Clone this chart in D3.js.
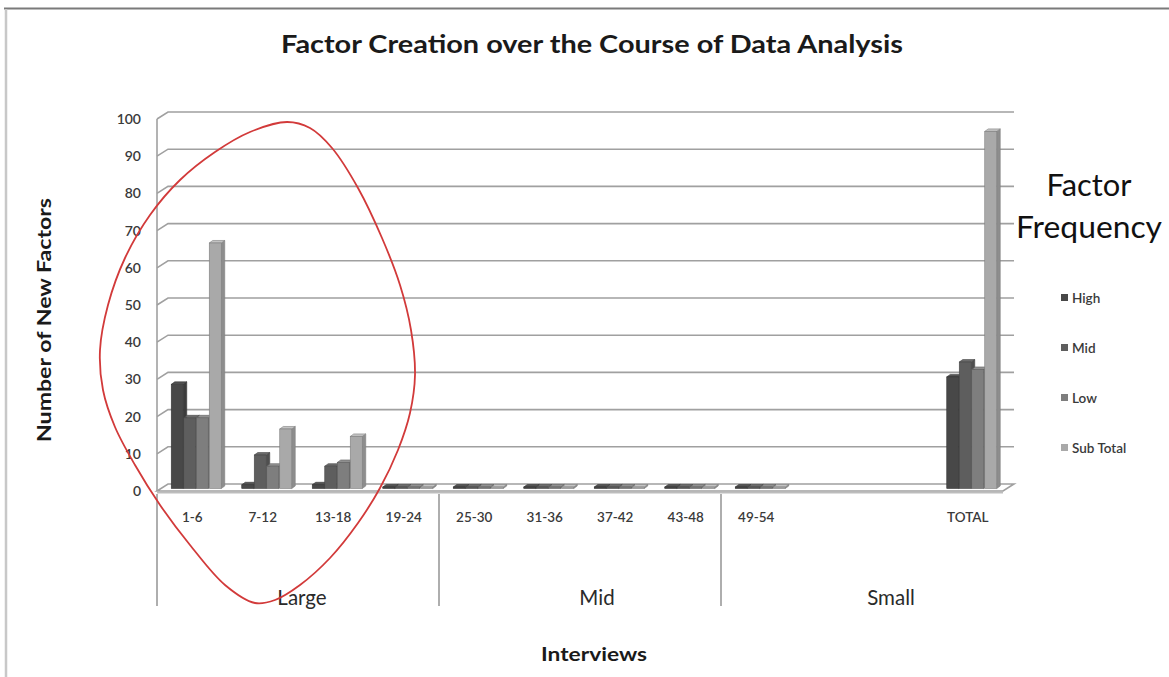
<!DOCTYPE html>
<html><head><meta charset="utf-8">
<script src="https://cdn.jsdelivr.net/npm/d3@7"></script>
<style>
html,body{margin:0;padding:0;background:#fff;}
svg{display:block;font-family:Lato,"Open Sans",sans-serif;}
</style></head>
<body>
<svg id="chart" width="1169" height="677"></svg>
<script>
// ---------- data ----------
const categories = ["1-6","7-12","13-18","19-24","25-30","31-36","37-42","43-48","49-54","","","TOTAL"];
const seriesNames = ["High","Mid","Low","Sub Total"];
const highValues     = [28, 1, 1, 0, 0, 0, 0, 0, 0, null, null, 30];
const midValues      = [19, 9, 6, 0, 0, 0, 0, 0, 0, null, null, 34];
const lowValues      = [19, 6, 7, 0, 0, 0, 0, 0, 0, null, null, 32];
const subTotalValues = [66,16,14, 0, 0, 0, 0, 0, 0, null, null, 96];
const groupNames = ["Large","Mid","Small"];
const groupSizes = [4, 4, 4];
const yTicks = [0,10,20,30,40,50,60,70,80,90,100];
const seriesColors = ["#484848","#5e5e5e","#7e7e7e","#a9a9a9"];

const seriesValues = [highValues, midValues, lowValues, subTotalValues];

// ---------- layout ----------
const svg = d3.select("#chart");
const X0 = 157, X1 = 1003;
const DX = 11, DY = -7;         // wall depth
const x = d3.scaleBand().domain(d3.range(categories.length)).range([X0, X1]).padding(0);
const y = d3.scaleLinear().domain([0,100]).range([491,119]);
const inner = d3.scaleBand().domain(seriesNames).range([-25, 25]).padding(0);

// frame
svg.append("line").attr("x1",4).attr("x2",1169).attr("y1",8.5).attr("y2",8.5).attr("stroke","#7a7a7a").attr("stroke-width",2);
svg.append("line").attr("x1",6).attr("x2",6).attr("y1",9).attr("y2",677).attr("stroke","#c8c8c8").attr("stroke-width",2.5);

// title
svg.append("text").attr("x",592).attr("y",53).attr("text-anchor","middle")
  .attr("font-size",25).attr("font-weight","bold").attr("fill","#1a1a1a")
  .attr("textLength",622).attr("lengthAdjust","spacingAndGlyphs")
  .text("Factor Creation over the Course of Data Analysis");

// gridlines: left wall diagonals + back wall
const grid = svg.append("g").attr("stroke","#a0a0a0").attr("stroke-width",1.6).attr("fill","none");
yTicks.forEach(t => {
  if (t === 0) return;
  grid.append("path").attr("d", `M${X0},${y(t)}L${X0+DX},${y(t)+DY}L${X1+DX},${y(t)+DY}`);
});
grid.append("line").attr("x1",X0).attr("x2",X0).attr("y1",y(0)).attr("y2",y(100));
// floor
svg.append("path")
  .attr("d", `M${X0},${y(0)}L${X1},${y(0)}L${X1+DX},${y(0)+DY}L${X0+DX},${y(0)+DY}Z`)
  .attr("fill","#fff").attr("stroke","#a0a0a0").attr("stroke-width",1.6);
svg.append("line").attr("x1",X0).attr("x2",X1).attr("y1",y(0)+1.8).attr("y2",y(0)+1.8)
  .attr("stroke","#bdbdbd").attr("stroke-width",1.4);

// y tick labels
svg.append("g").selectAll("text").data(yTicks).join("text")
  .attr("x",141).attr("y",d=>y(d)+5).attr("text-anchor","end")
  .attr("font-size",14).attr("font-weight","600").attr("fill","#3a3a3a").text(d=>d);

// bars (3D)
const FX = 4, FY = -2.5;     // front-face depth offset
const BX = 3.5, BY = -2.5;   // bar depth
const bw = 12;
const barG = svg.append("g");
const bars = [];
categories.forEach((c,i) => {
  seriesNames.forEach((s,k) => {
    const v = seriesValues[k][i];
    if (v === null || v === undefined) return;
    bars.push({i, k, v});
  });
});
bars.forEach(b => {
  const cx = x(b.i) + x.bandwidth()/2;
  const x0 = cx + inner(seriesNames[b.k]) + FX + (b.k===3 ? 0.5 : 0);
  const yb = y(0) + FY;
  const yt = Math.min(y(b.v) + FY, yb - 1.5);
  const col = d3.color(seriesColors[b.k]);
  const g = barG.append("g");
  g.append("path").attr("d",`M${x0+bw},${yb}L${x0+bw+BX},${yb+BY}L${x0+bw+BX},${yt+BY}L${x0+bw},${yt}Z`)
    .attr("fill",col.darker(0.5)).attr("stroke",col.darker(0.8)).attr("stroke-width",0.6);
  g.append("path").attr("d",`M${x0},${yt}L${x0+BX},${yt+BY}L${x0+bw+BX},${yt+BY}L${x0+bw},${yt}Z`)
    .attr("fill",col.brighter(0.4)).attr("stroke",col.darker(0.8)).attr("stroke-width",0.6);
  g.append("rect").attr("x",x0).attr("y",yt).attr("width",bw).attr("height",yb-yt)
    .attr("fill",col).attr("stroke",col.darker(0.8)).attr("stroke-width",0.6);
});

// category labels
svg.append("g").selectAll("text").data(categories).join("text")
  .attr("x",(d,i)=>x(i)+x.bandwidth()/2).attr("y",522).attr("text-anchor","middle")
  .attr("font-size",13.5).attr("font-weight","600").attr("fill","#3a3a3a").text(d=>d);

// group separators and labels
let acc = 0;
const sepXs = [X0];
groupSizes.forEach((n,gi) => { acc += n; if (gi < groupSizes.length-1) sepXs.push(x(acc)); });
svg.append("g").selectAll("line").data(sepXs).join("line")
  .attr("x1",d=>d).attr("x2",d=>d).attr("y1",y(0)+3).attr("y2",606)
  .attr("stroke","#9a9a9a").attr("stroke-width",1.6);
const groupLabelShift = [4, 17, 29];
acc = 0;
groupNames.forEach((g,gi) => {
  const a = x(acc), bEnd = x(acc+groupSizes[gi]-1)+x.bandwidth();
  acc += groupSizes[gi];
  svg.append("text").attr("x",(a+bEnd)/2+groupLabelShift[gi]).attr("y",605).attr("text-anchor","middle")
    .attr("font-size",20.5).attr("fill","#2a2a2a").text(g);
});

// axis titles
svg.append("text").attr("x",594).attr("y",661).attr("text-anchor","middle")
  .attr("font-size",19).attr("font-weight","bold").attr("fill","#1a1a1a")
  .attr("textLength",106).attr("lengthAdjust","spacingAndGlyphs").text("Interviews");
svg.append("text").attr("transform","translate(51,320) rotate(-90)").attr("text-anchor","middle")
  .attr("font-size",19).attr("font-weight","bold").attr("fill","#1a1a1a")
  .attr("textLength",244).attr("lengthAdjust","spacingAndGlyphs").text("Number of New Factors");

// legend
svg.append("text").attr("x",1089).attr("y",196).attr("text-anchor","middle")
  .attr("font-size",30).attr("fill","#111").attr("textLength",85).attr("lengthAdjust","spacingAndGlyphs").text("Factor");
svg.append("text").attr("x",1089).attr("y",238).attr("text-anchor","middle")
  .attr("font-size",30).attr("fill","#111").attr("textLength",146).attr("lengthAdjust","spacingAndGlyphs").text("Frequency");
const legY = d3.scalePoint().domain(seriesNames).range([298, 448]);
const leg = svg.append("g").selectAll("g").data(seriesNames).join("g")
  .attr("transform",d=>`translate(1061,${legY(d)})`);
leg.append("rect").attr("x",0).attr("y",-4).attr("width",7).attr("height",7)
  .attr("fill",(d,i)=>seriesColors[i]);
leg.append("text").attr("x",11).attr("y",4.5).attr("font-size",13.5).attr("font-weight","600")
  .attr("fill","#3a3a3a").text(d=>d);

// red hand-drawn annotation loop around the "Large" group
const loopPts = [[287,122],[250,132],[215,152],[180,180],[150,215],[125,258],[108,305],[100,350],
  [103,390],[115,427],[135,465],[160,505],[190,545],[225,585],[255,603],[275,600],[300,585],
  [330,558],[358,523],[380,488],[398,450],[410,413],[415,375],[411,330],[400,285],[382,238],
  [358,188],[332,148],[310,128]];
svg.append("path").datum(loopPts)
  .attr("d", d3.line().curve(d3.curveCatmullRomClosed.alpha(0.5)))
  .attr("fill","none").attr("stroke","#d23a3a").attr("stroke-width",1.8);
</script>
</body></html>
